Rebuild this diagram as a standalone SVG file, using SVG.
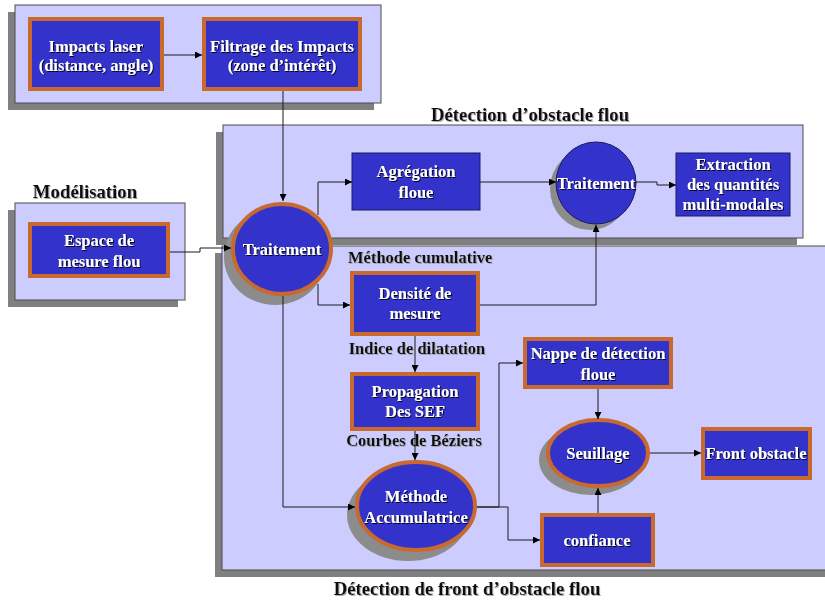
<svg xmlns="http://www.w3.org/2000/svg" width="825" height="604" viewBox="0 0 825 604">
  <style>
    .panel { fill: #ccccff; stroke: #4d4d4d; stroke-width: 1; }
    .pshadow { fill: #808080; }
    .box { fill: #3333cc; stroke: #c8692f; stroke-width: 4; }
    .plain { fill: #3333cc; stroke: #1a1a5e; stroke-width: 1; }
    .shadow { fill: #8c8c8c; }
    .lbl { font-family: "Liberation Serif", "Times New Roman", serif; font-weight: bold; font-size: 16.5px; fill: #ffffff; text-anchor: middle; filter: url(#tshadow); }
    .title { font-family: "Liberation Serif", "Times New Roman", serif; font-weight: bold; font-size: 18.8px; fill: #111111; filter: url(#gshadow); }
    .sub { font-family: "Liberation Serif", "Times New Roman", serif; font-weight: bold; font-size: 16.5px; fill: #111111; filter: url(#gshadow); }
    .wire { fill: none; stroke: #1a1a1a; stroke-width: 1; marker-end: url(#arrow); }
  </style>
  <defs>
    <filter id="tshadow" x="-10%" y="-20%" width="120%" height="140%">
      <feDropShadow dx="1" dy="1" stdDeviation="0.4" flood-color="#000000" flood-opacity="0.9"/>
    </filter>
    <filter id="gshadow" x="-10%" y="-20%" width="120%" height="140%">
      <feDropShadow dx="1" dy="1" stdDeviation="0.4" flood-color="#999999" flood-opacity="0.8"/>
    </filter>
    <marker id="arrow" viewBox="0 0 8 8" refX="8" refY="4" markerWidth="7" markerHeight="7" markerUnits="userSpaceOnUse" orient="auto">
      <path d="M0,0 L8,4 L0,8 z" fill="#000000"/>
    </marker>
  </defs>

  <rect width="825" height="604" fill="#ffffff"/>

  <!-- panels -->
  <g id="panel-acquisition">
    <rect class="pshadow" x="8" y="12" width="366" height="98"/>
    <rect class="panel" x="15" y="5" width="366" height="98"/>
  </g>
  <g id="panel-obstacle">
    <rect class="pshadow" x="216" y="132" width="581" height="113"/>
    <rect class="panel" x="223" y="125" width="580" height="113"/>
    <text class="title" x="530" y="121" text-anchor="middle">Détection d’obstacle flou</text>
  </g>
  <g id="panel-front">
    <rect class="pshadow" x="215" y="253" width="620" height="324"/>
    <rect class="panel" x="222" y="246" width="620" height="324"/>
    <text class="sub" x="348" y="263">Méthode cumulative</text>
    <text class="title" x="467" y="595" text-anchor="middle">Détection de front d’obstacle flou</text>
  </g>
  <g id="panel-modelisation">
    <rect class="pshadow" x="8" y="210" width="170" height="97"/>
    <rect class="panel" x="15" y="203" width="170" height="97"/>
    <text class="title" x="85" y="198" text-anchor="middle">Modélisation</text>
  </g>

  <!-- nodes -->
  <g id="impacts-laser">
    <rect class="box" x="30" y="19" width="132" height="70"/>
    <text class="lbl" x="96" y="52">Impacts laser</text>
    <text class="lbl" x="96" y="71">(distance, angle)</text>
  </g>
  <g id="filtrage">
    <rect class="box" x="204" y="19" width="156" height="70"/>
    <text class="lbl" x="282" y="52">Filtrage des Impacts</text>
    <text class="lbl" x="282" y="71">(zone d’intérêt)</text>
  </g>
  <g id="espace-mesure">
    <rect class="box" x="30" y="224" width="138" height="52"/>
    <text class="lbl" x="99" y="246">Espace de</text>
    <text class="lbl" x="99" y="267">mesure flou</text>
  </g>
  <g id="traitement-principal">
    <ellipse class="shadow" cx="275" cy="257" rx="51" ry="48"/>
    <ellipse class="box" cx="282" cy="249" rx="49" ry="45"/>
    <text class="lbl" x="282" y="255">Traitement</text>
  </g>
  <g id="agregation">
    <rect class="plain" x="352" y="153" width="128" height="57"/>
    <text class="lbl" x="416" y="177">Agrégation</text>
    <text class="lbl" x="416" y="198">floue</text>
  </g>
  <g id="traitement-obstacle">
    <ellipse class="shadow" cx="590" cy="189" rx="40" ry="41"/>
    <ellipse class="plain" cx="596" cy="183" rx="40" ry="41"/>
    <text class="lbl" x="596" y="189">Traitement</text>
  </g>
  <g id="extraction">
    <rect class="plain" x="676" y="153" width="114" height="63"/>
    <text class="lbl" x="733" y="170">Extraction</text>
    <text class="lbl" x="733" y="190">des quantités</text>
    <text class="lbl" x="733" y="210">multi-modales</text>
  </g>
  <g id="densite">
    <rect class="box" x="352" y="273" width="126" height="61"/>
    <text class="lbl" x="415" y="299">Densité de</text>
    <text class="lbl" x="415" y="319">mesure</text>
  </g>
  <g id="indice-label">
    <text class="sub" x="417" y="354" text-anchor="middle">Indice de dilatation</text>
  </g>
  <g id="propagation">
    <rect class="box" x="352" y="374" width="126" height="55"/>
    <text class="lbl" x="415" y="397">Propagation</text>
    <text class="lbl" x="415" y="417">Des SEF</text>
  </g>
  <g id="courbes-label">
    <text class="sub" x="414" y="446" text-anchor="middle">Courbes de Béziers</text>
  </g>
  <g id="methode-accumulatrice">
    <ellipse class="shadow" cx="408" cy="515" rx="61" ry="46"/>
    <ellipse class="box" cx="416" cy="506" rx="59" ry="44"/>
    <text class="lbl" x="416" y="502">Méthode</text>
    <text class="lbl" x="416" y="523">Accumulatrice</text>
  </g>
  <g id="nappe">
    <rect class="box" x="525" y="339" width="146" height="48"/>
    <text class="lbl" x="598" y="359">Nappe de détection</text>
    <text class="lbl" x="598" y="380">floue</text>
  </g>
  <g id="seuillage">
    <ellipse class="shadow" cx="591" cy="460" rx="52" ry="35"/>
    <ellipse class="box" cx="598" cy="453" rx="50" ry="33"/>
    <text class="lbl" x="598" y="459">Seuillage</text>
  </g>
  <g id="front-obstacle">
    <rect class="box" x="703" y="429" width="107" height="49"/>
    <text class="lbl" x="756" y="459">Front obstacle</text>
  </g>
  <g id="confiance">
    <rect class="box" x="542" y="515" width="111" height="50"/>
    <text class="lbl" x="597" y="546">confiance</text>
  </g>

  <!-- connectors -->
  <g id="connectors">
    <path class="wire" d="M164,55 H202"/>
    <path class="wire" d="M283,91 V201"/>
    <path class="wire" d="M170,252 H200 V248 H231"/>
    <path class="wire" d="M318,215 V182 H352"/>
    <path class="wire" d="M318,284 V305 H350"/>
    <path class="wire" d="M480,305 H596 V225"/>
    <path class="wire" d="M480,182 H556"/>
    <path class="wire" d="M636,182 H657 V185 H676"/>
    <path class="wire" d="M415,336 V372"/>
    <path class="wire" d="M415,431 V460"/>
    <path class="wire" d="M283,296 V507 H355"/>
    <path class="wire" d="M477,507 H499 V363 H523"/>
    <path class="wire" d="M477,507 H508 V540 H540"/>
    <path class="wire" d="M598,389 V419"/>
    <path class="wire" d="M598,513 V488"/>
    <path class="wire" d="M650,453 H701"/>
  </g>
</svg>
